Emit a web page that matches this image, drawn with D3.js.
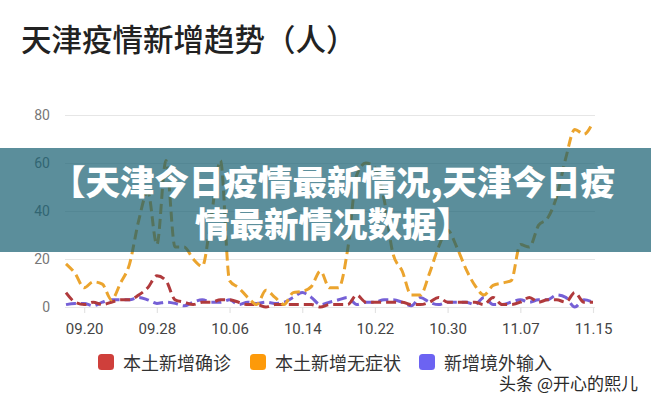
<!DOCTYPE html>
<html><head><meta charset="utf-8">
<script src="https://cdn.jsdelivr.net/npm/d3@7"></script>
<style>
html,body{margin:0;padding:0;background:#fff;}
svg{display:block;font-family:"Noto Sans CJK SC","Noto Sans",sans-serif;}
</style></head>
<body><svg id="c" width="651" height="400"></svg>
<script>
const dates = ["09.18","09.19","09.20","09.21","09.22","09.23","09.24","09.25","09.26","09.27","09.28","09.29","09.30",
"10.01","10.02","10.03","10.04","10.05","10.06","10.07","10.08","10.09","10.10","10.11","10.12","10.13","10.14","10.15","10.16","10.17","10.18","10.19","10.20","10.21","10.22","10.23","10.24","10.25","10.26","10.27","10.28","10.29","10.30","10.31",
"11.01","11.02","11.03","11.04","11.05","11.06","11.07","11.08","11.09","11.10","11.11","11.12","11.13","11.14","11.15"];
const confirmed = [6,2,1,2,1,2,3,3,5,8, 13,11,3,2,1,2,2,3,3,2, 1,1,0,1,1,1,1,1,0,1, 1,1,5,2,2,2,2,2,1,1, 2,4,2,2,2,2,1,4,1,1, 2,4,2,3,3,2,6,2,2];
const asymptomatic = [18,14,8,10.5,9.5,3,10,18,36,48, 26,61,25,25,20,17,38,61,11,8, 4,1,7,4,1,6,6.5,8.5,15,8, 8,24,55,60,58,45,22,15,5,5, 14,25,32,25,16,9,5,9,10,11, 26,25,34,37,46,62,74,72,77];
const imported = [1,1.5,1.5,0.5,2,3,3,3,4,3, 1.5,2,1.5,0.5,2,3,2,2,3,1, 2,1.5,2,1.5,2,4,6,4,1,2, 3,4,1,2,2,3,3,2,0.5,4, 2,1,2,2,2,1,4,1,1,2, 3,2,3,3,5,4,0,3,2];
const xTicks = ["09.20","09.28","10.06","10.14","10.22","10.30","11.07","11.15"];
const yTicks = [0,20,40,60,80];
const seriesNames = ["本土新增确诊","本土新增无症状","新增境外输入"];
const lineColors = ["#b03a3c","#eba42e","#7560d6"];
const legendColors = ["#cf3f3b","#fd9a0a","#6c63f2"];
const title = "天津疫情新增趋势（人）";
const bannerLines = ["【天津今日疫情最新情况,天津今日疫","情最新情况数据】"];
const watermark = "头条 @开心的熙儿";

const svg = d3.select("#c");
const x = d3.scalePoint().domain(dates).range([66, 593]);
const y = d3.scaleLinear().domain([0, 80]).range([307, 115]);

svg.append("text").attr("x", 21).attr("y", 51).attr("font-size", 30.5).attr("font-weight", 500)
  .attr("fill", "#222").text(title);

const ya = svg.append("g").attr("transform", "translate(65,0)")
  .call(d3.axisLeft(y).tickValues(yTicks).tickSize(-530).tickPadding(15));
ya.select(".domain").remove();
ya.selectAll(".tick line").attr("stroke", "#e6e6e6").attr("stroke-width", 1.2);
ya.selectAll(".tick text").attr("font-size", 14).attr("fill", "#777").attr("font-family", "Roboto,'Noto Sans',sans-serif");

const xa = svg.append("g").attr("transform", "translate(0,307)")
  .call(d3.axisBottom(x).tickValues(xTicks).tickSize(6).tickSizeOuter(0).tickPadding(10));
xa.select(".domain").remove();
xa.selectAll(".tick line").attr("stroke", "#e3e3e3").attr("stroke-width", 1.2);
xa.selectAll(".tick text").attr("font-size", 15).attr("fill", "#444").attr("font-family", "Roboto,'Noto Sans',sans-serif");

const seriesData = [confirmed, asymptomatic, imported];
const line = d3.line().x((d, i) => x(dates[i])).y(d => y(d)).curve(d3.curveMonotoneX);
[2, 0, 1].forEach(k => {
  svg.append("path").datum(seriesData[k]).attr("d", line).attr("fill", "none")
    .attr("stroke", lineColors[k]).attr("stroke-width", 3)
    .attr("stroke-dasharray", "10,5").attr("stroke-linecap", "butt");
});

// banner overlay
svg.append("rect").attr("x", 0).attr("y", 148).attr("width", 651).attr("height", 104)
  .attr("fill", "rgb(21,94,112)").attr("fill-opacity", 0.7);
bannerLines.forEach((t, i) => {
  svg.append("text").attr("x", 333).attr("y", 180 + i * 42).attr("text-anchor", "middle")
    .attr("dominant-baseline", "central").attr("font-size", 34.5).attr("font-weight", 900)
    .attr("fill", "#fff").text(t);
});

// legend
const lx = [98, 250, 419];
seriesNames.forEach((n, i) => {
  svg.append("rect").attr("x", lx[i]).attr("y", 354).attr("width", 16).attr("height", 16)
    .attr("rx", 3.5).attr("fill", legendColors[i]);
  svg.append("text").attr("x", lx[i] + 25).attr("y", 362).attr("dominant-baseline", "central")
    .attr("font-size", 18).attr("fill", "#333").text(n);
});

svg.append("text").attr("x", 638).attr("y", 382).attr("text-anchor", "end")
  .attr("dominant-baseline", "central").attr("font-size", 17).attr("fill", "#2a2a2a")
  .attr("stroke", "#fff").attr("stroke-width", 2.5).attr("paint-order", "stroke").text(watermark);
</script></body></html>
